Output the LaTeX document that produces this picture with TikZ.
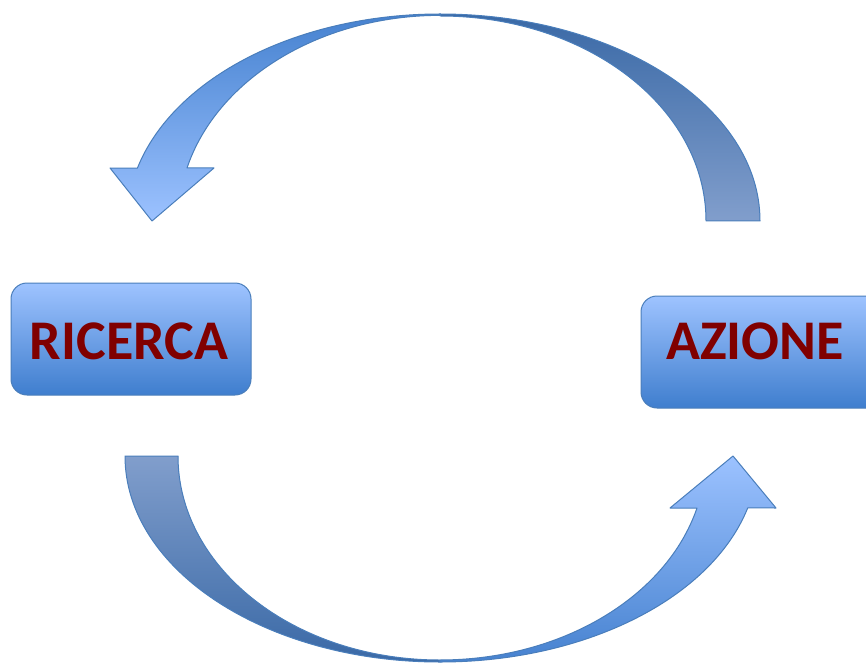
\documentclass[tikz,border=0pt]{standalone}
\usepackage{fontspec}
\setmainfont{Carlito}
\definecolor{arrowline}{HTML}{4A7EBB}
\definecolor{headdark}{HTML}{4682D0}
\definecolor{headlight}{HTML}{9CC2FF}
\definecolor{taildark}{HTML}{3A69A6}
\definecolor{taillight}{HTML}{819ECC}
\definecolor{boxtop}{HTML}{9EC3FF}
\definecolor{boxbottom}{HTML}{3F7ECE}
\definecolor{labelred}{HTML}{800000}
\begin{document}
\begin{tikzpicture}[x=1pt,y=1pt,
  shapeline/.style={draw=arrowline, line width=1pt, line join=round},
  boxstyle/.style={shapeline, rounded corners=16pt, top color=boxtop, bottom color=boxbottom, minimum height=112pt, inner sep=0pt},
  labelstyle/.style={text=labelred, font=\fontsize{56}{60}\selectfont\bfseries, inner sep=0pt}]
\useasboundingbox (0,0) rectangle (866,665);
\clip (0,0) rectangle (866,665);
% top arrow, back (tail) part
\path[shapeline, top color=taildark, bottom color=taillight]
  (760,444) arc[start angle=0,end angle=90,x radius=320,y radius=207]
  -- (440,649) arc[start angle=90,end angle=0,x radius=266,y radius=205] -- cycle;
% top arrow, front (head) part
\path[shapeline, top color=headdark, bottom color=headlight]
  (440,651) arc[start angle=90,end angle=165.2,x radius=313,y radius=207]
  -- (110,497) -- (152,444) -- (214,497) -- (187,497)
  arc[start angle=165.2,end angle=90,x radius=262,y radius=205] -- cycle;
% bottom arrow, back (tail) part
\path[shapeline, top color=taillight, bottom color=taildark]
  (125,209) arc[start angle=180,end angle=270,x radius=315,y radius=206]
  -- (440,5) arc[start angle=270,end angle=180,x radius=262,y radius=204] -- cycle;
% bottom arrow, front (head) part
\path[shapeline, top color=headlight, bottom color=headdark]
  (440,3) arc[start angle=-90,end angle=-14.6,x radius=318,y radius=206]
  -- (776,157) -- (733,209) -- (670,157) -- (697,157)
  arc[start angle=-14.77,end angle=-90,x radius=266,y radius=204] -- cycle;
% boxes
\node[boxstyle, minimum width=240pt] (ricerca) at (131,326) {};
\node[labelstyle] (ricercatext) at (129,324) {RICERCA};
\node[boxstyle, minimum width=250pt] (azione) at (766,313) {};
\node[labelstyle] (azionetext) at (755,324) {AZIONE};
\end{tikzpicture}
\end{document}
